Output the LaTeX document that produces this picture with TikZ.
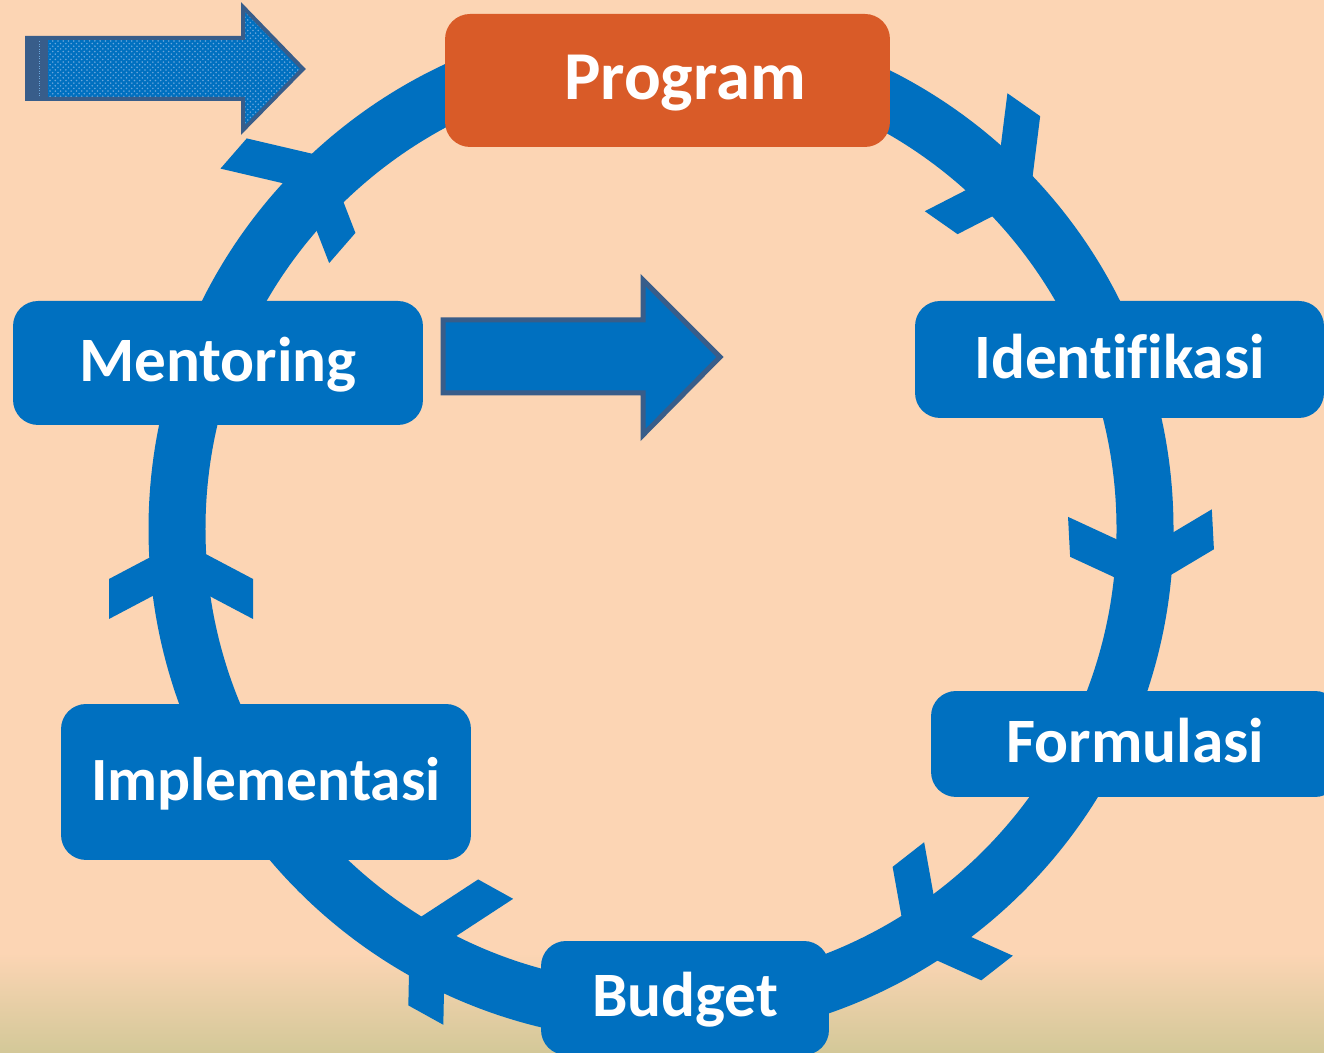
\documentclass[tikz,border=0pt]{standalone}
\usepackage{fontspec}
\setmainfont[Ligatures=NoCommon]{Carlito}
\usetikzlibrary{patterns}
\definecolor{peach}{HTML}{FCD5B4}
\definecolor{sand}{HTML}{D3C898}
\definecolor{cycleblue}{HTML}{0070C0}
\definecolor{progorange}{HTML}{D95B28}
\definecolor{arrowedge}{HTML}{385D8A}
\definecolor{dotblue}{HTML}{6AA6DC}
\begin{document}
\begin{tikzpicture}
		[x=0.02cm, y=0.02cm,
		stage/.style={
			rectangle,
			rounded corners=0.5cm,
			fill=cycleblue,
			text=white,
			font=\bfseries\fontsize{36}{42}\selectfont,
			text height=0.75cm,
			text depth=0pt,
			inner sep=0pt
		},
		chevron/.style={fill=cycleblue},
		bigarrow/.style={draw=arrowedge, line width=0.1cm, fill=cycleblue},
		dotarrow/.style={draw=arrowedge, line width=0.08cm, preaction={fill=cycleblue},
			pattern=crosshatch dots, pattern color=dotblue}]
		\clip (0,0) rectangle (1324,1053);
		\fill[peach] (0,0) rectangle (1324,1053);
		\shade[top color=peach, bottom color=sand] (0,0) rectangle (1324,100);
		% the cycle
		\draw[cycleblue, line width=1.14cm] (661,524) circle [radius=484];
		\foreach \px/\py/\rot in {326/896/49, 1030/856/-35, 1144/462/-87,
			907/106/-142, 410/129/151, 181/512/90}
			\fill[chevron, shift={(\px,\py)}, rotate=\rot]
				(0,0) -- (-38,72) -- (-78,72) -- (-40,0) -- (-78,-72) -- (-38,-72) -- cycle;
		% stages
		\node[stage, fill=progorange, minimum width=8.9cm, minimum height=2.66cm] (program) at (667.5,972.5) {};
		\node[text=white, font=\bfseries\fontsize{39}{46}\selectfont, anchor=base] (programtext) at (685,953) {Program};
		\node[stage, minimum width=8.18cm, minimum height=2.34cm] (identifikasi) at (1119.5,693.5) {Identifikasi};
		\node[stage, minimum width=8.18cm, minimum height=2.12cm] (formulasi) at (1135.5,309) {Formulasi};
		\node[stage, minimum width=5.76cm, minimum height=2.28cm] (budget) at (685,55) {Budget};
		\node[stage, minimum width=8.2cm, minimum height=3.12cm, font=\bfseries\fontsize{35}{42}\selectfont] (implementasi) at (266,271) {Implementasi};
		\node[stage, minimum width=8.2cm, minimum height=2.48cm] (mentoring) at (218,690) {Mentoring};
		% arrows
		\draw[bigarrow] (443,660) -- (643,660) -- (643,618) -- (720,696) -- (643,773) -- (643,733) -- (443,733) -- cycle;
		\draw[dotarrow] (27,954) -- (243,954) -- (243,923) -- (303,984) -- (243,1046) -- (243,1015) -- (27,1015) -- cycle;
		\fill[arrowedge] (27,954) rectangle (48,1015);
		\draw[dotblue, densely dotted, line width=0.4pt] (39,957) -- (39,1012);
	\end{tikzpicture}
\end{document}
